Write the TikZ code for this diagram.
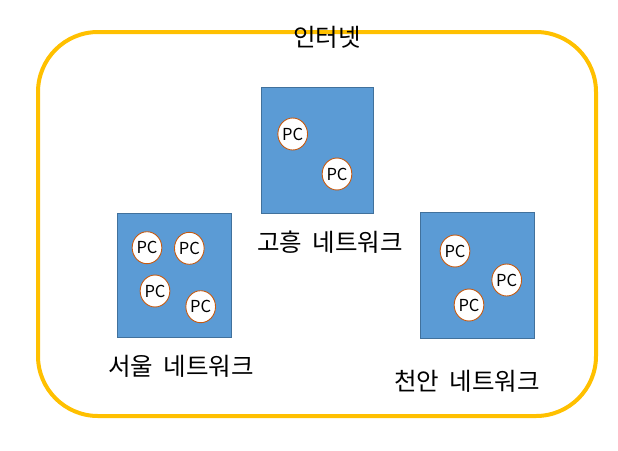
\documentclass[tikz,border=0pt]{standalone}
\usepackage{fontspec}
\newfontfamily\kor{Noto Sans CJK KR}
\setmainfont{Open Sans}
\definecolor{boxblue}{HTML}{5B9BD5}
\definecolor{boxedge}{HTML}{41719C}
\definecolor{netyellow}{HTML}{FFC000}
\definecolor{pcedge}{HTML}{C55A11}
\newcommand{\wsp}{\hspace{0.42em}}
\begin{document}
\begin{tikzpicture}[x=1pt,y=-1pt,
  netbox/.style={draw=boxedge,fill=boxblue,line width=1pt},
  pc/.style={ellipse,draw=pcedge,fill=white,line width=0.9pt,minimum width=29pt,minimum height=32pt,inner sep=0pt,font=\kor\fontsize{16.5}{16.5}\selectfont},
  lbl/.style={font=\kor\fontsize{24.5}{24.5}\selectfont,inner sep=0pt}]
\usetikzlibrary{shapes.geometric}
\useasboundingbox (0,0) rectangle (618,450);
\draw[draw=netyellow,line width=4pt,rounded corners=60pt] (38,32) rectangle (596,416);
\node[lbl] (inet) at (327,37) {인터넷};
% boxes
\draw[netbox] (261,87) rectangle (373,213);
\draw[netbox] (117,213) rectangle (231,337);
\draw[netbox] (420,212) rectangle (534,338);
% PCs
\node[pc] (g1) at (292.7,134) {PC};
\node[pc] (g2) at (337,174) {PC};
\node[pc] (s1) at (147,247.7) {PC};
\node[pc] (s2) at (189.3,248.3) {PC};
\node[pc] (s3) at (155,291) {PC};
\node[pc] (s4) at (200.7,306.7) {PC};
\node[pc] (c1) at (455,251) {PC};
\node[pc] (c2) at (506.7,280) {PC};
\node[pc] (c3) at (469,305) {PC};
% labels
\node[lbl] (gl) at (330,242) {고흥\wsp 네트워크};
\node[lbl] (sl) at (181,366) {서울\wsp 네트워크};
\node[lbl] (cl) at (467,381) {천안\wsp 네트워크};
\end{tikzpicture}
\end{document}
